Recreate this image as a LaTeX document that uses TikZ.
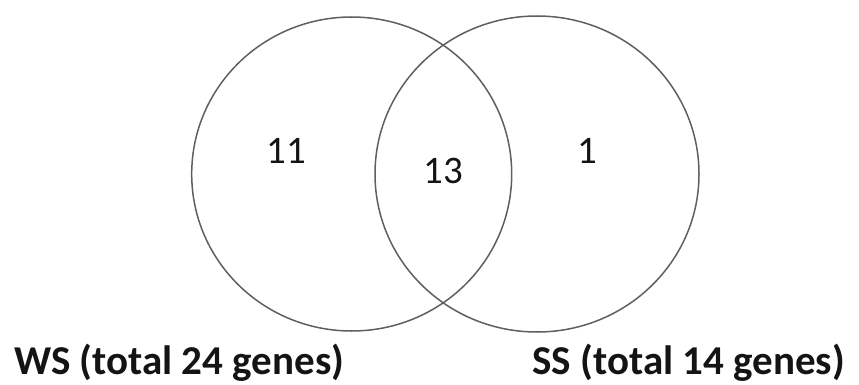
\documentclass[tikz,border=0pt]{standalone}
\usepackage{fontspec}
\setmainfont{Carlito}
\usepackage{xcolor}
\definecolor{ringgray}{RGB}{95,95,95}
\definecolor{textgray}{RGB}{20,20,20}

\begin{document}
\begin{tikzpicture}[x=1pt, y=-1pt]
  % Fix the page size
  \useasboundingbox (0,0) rectangle (859,385);

  % Draw the two sets
  \draw[ringgray, line width=1.5pt] (351.7,174) ellipse (160 and 157);
  \draw[ringgray, line width=1.5pt] (537,174) ellipse (162 and 158);

  % Counts in each region
  \node[textgray, font=\fontsize{39}{39}\selectfont] (wsonly) at (286,151) {11};
  \node[textgray, font=\fontsize{39}{39}\selectfont] (both) at (443,171) {13};
  \node[textgray, font=\fontsize{39}{39}\selectfont] (ssonly) at (587,151) {1};

  % Set names
  \node[textgray, anchor=base west, inner sep=0, font=\bfseries\fontsize{41}{41}\selectfont] (wslabel) at (14,374) {WS (total 24 genes)};
  \node[textgray, anchor=base east, inner sep=0, font=\bfseries\fontsize{41}{41}\selectfont] (sslabel) at (845,374) {SS (total 14 genes)};
\end{tikzpicture}
\end{document}
